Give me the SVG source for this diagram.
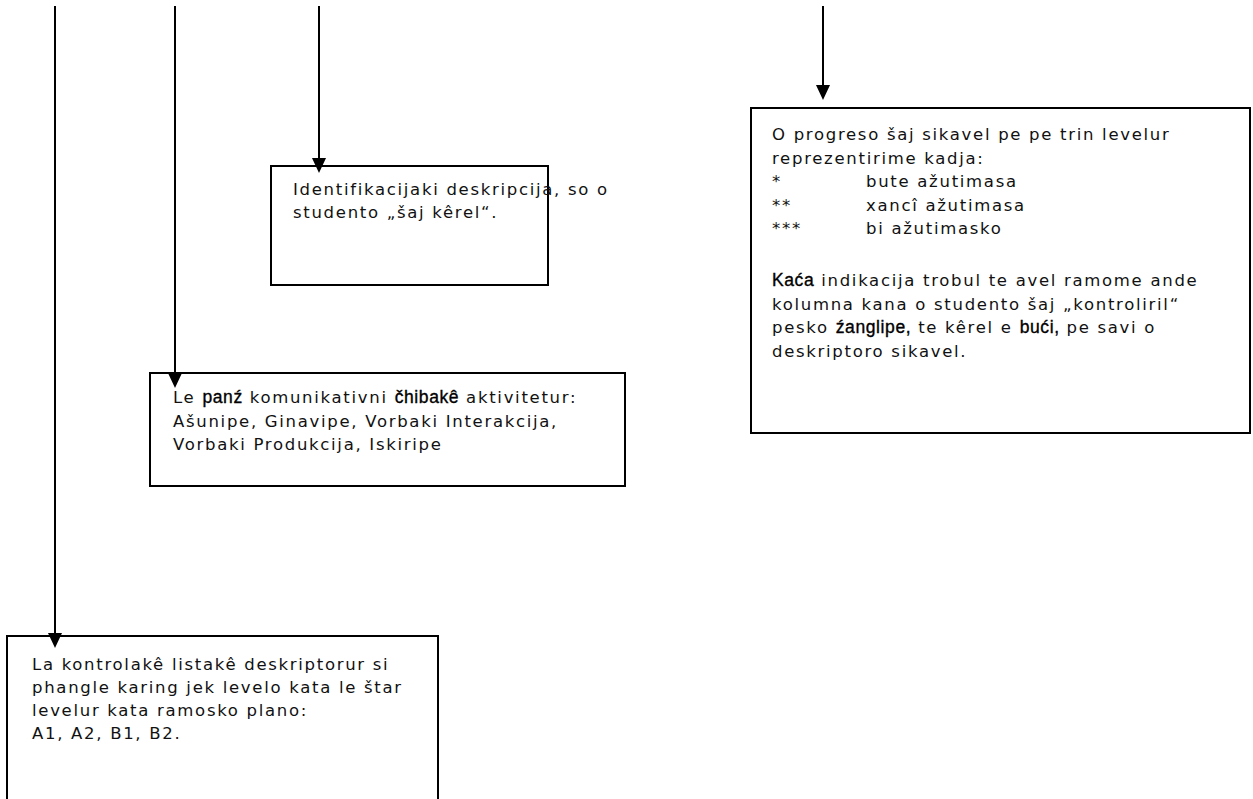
<svg xmlns="http://www.w3.org/2000/svg" width="1253" height="799" viewBox="0 0 1253 799">
<style>
.box{fill:#fff;stroke:#000;stroke-width:2}
.t{font-family:"DejaVu Sans",Verdana,sans-serif;font-size:16.5px;letter-spacing:1.7px;fill:#111}
.b{font-family:"Liberation Sans",Arial,sans-serif;font-size:17.5px;letter-spacing:0.6px;fill:#000;stroke:#000;stroke-width:0.35}
.ln{stroke:#000;stroke-width:2;fill:none}
</style>
<defs>
<marker id="ah" markerWidth="15" markerHeight="14" refX="7" refY="7" orient="auto" markerUnits="userSpaceOnUse" viewBox="0 0 15 14">
<path d="M0,0 L15,7 L0,14 Z" fill="#000"/>
</marker>
</defs>
<g id="node-identifikacija">
<rect class="box" x="271" y="166" width="277" height="119"/>
<text class="t" x="293" y="195">Identifikacijaki deskripcija, so o</text>
<text class="t" x="293" y="218">studento „šaj kêrel“.</text>
</g>
<g id="node-panz">
<rect class="box" x="150" y="373" width="475" height="113"/>
<text class="t" x="173" y="403">Le <tspan class="b">panź</tspan> komunikativni <tspan class="b">čhibakê</tspan> aktivitetur:</text>
<text class="t" x="173" y="426.5">Ašunipe, Ginavipe, Vorbaki Interakcija,</text>
<text class="t" x="173" y="450">Vorbaki Produkcija, Iskiripe</text>
</g>
<g id="node-kontrolake">
<rect class="box" x="7" y="636" width="431" height="175"/>
<text class="t" x="32" y="670">La kontrolakê listakê deskriptorur si</text>
<text class="t" x="32" y="693">phangle karing jek levelo kata le štar</text>
<text class="t" x="32" y="716">levelur kata ramosko plano:</text>
<text class="t" x="32" y="739">A1, A2, B1, B2.</text>
</g>
<g id="node-progreso">
<rect class="box" x="751" y="108" width="499" height="325"/>
<text class="t" x="772" y="140">O progreso šaj sikavel pe pe trin levelur</text>
<text class="t" x="772" y="163.5">reprezentirime kadja:</text>
<text class="t" x="772" y="187">*</text><text class="t" x="866" y="187">bute ažutimasa</text>
<text class="t" x="772" y="210.5">**</text><text class="t" x="866" y="210.5">xancî ažutimasa</text>
<text class="t" x="772" y="234">***</text><text class="t" x="866" y="234">bi ažutimasko</text>
<text class="t" x="772" y="286"><tspan class="b">Kaća</tspan> indikacija trobul te avel ramome ande</text>
<text class="t" x="772" y="309.5">kolumna kana o studento šaj „kontroliril“</text>
<text class="t" x="772" y="333">pesko <tspan class="b">źanglipe,</tspan> te kêrel e <tspan class="b">bući,</tspan> pe savi o</text>
<text class="t" x="772" y="356.5">deskriptoro sikavel.</text>
</g>
<g id="connectors">
<line class="ln" x1="55" y1="6" x2="55" y2="640" marker-end="url(#ah)"/>
<line class="ln" x1="175" y1="6" x2="175" y2="380" marker-end="url(#ah)"/>
<line class="ln" x1="319" y1="6" x2="319" y2="165" marker-end="url(#ah)"/>
<line class="ln" x1="823" y1="6" x2="823" y2="92" marker-end="url(#ah)"/>
</g>
</svg>
